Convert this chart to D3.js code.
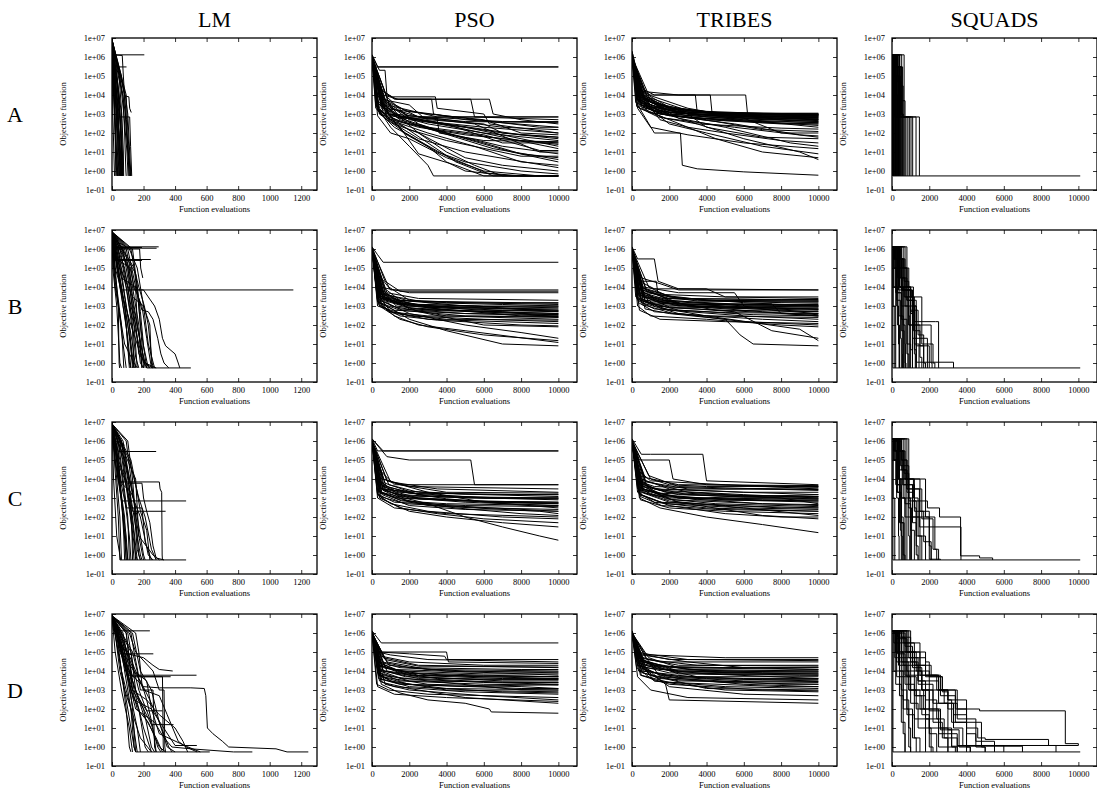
<!DOCTYPE html>
<html><head><meta charset="utf-8">
<script src="https://cdn.jsdelivr.net/npm/d3@7"></script>
<style>body{margin:0;background:#fff}</style></head>
<body>
<svg id="c" width="1097" height="807"></svg>
<script>
// ---------------- data (x = function evaluations, y = objective function) ----------------
const methods = ["LM", "PSO", "TRIBES", "SQUADS"];
const problems = ["A", "B", "C", "D"];
const lmXTicks = [0, 200, 400, 600, 800, 1000, 1200];
const popXTicks = [0, 2000, 4000, 6000, 8000, 10000];
const yTicks = [1e-1, 1e0, 1e1, 1e2, 1e3, 1e4, 1e5, 1e6, 1e7];
const yTickLabels = ["1e-01", "1e+00", "1e+01", "1e+02", "1e+03", "1e+04", "1e+05", "1e+06", "1e+07"];
const xLabel = "Function evaluations";
const yLabel = "Objective function";

const LM_A = [
 [0,8e6, 4,1.3e6, 205,1.3e6],
 [0,8e6, 6,1.3e6, 65,1.2e6, 72,1e5, 80,9e3, 107,8e3, 112,2e3, 122,1.2e3],
 [0,8e6, 10,1.3e6, 20,3e5, 92,3e5],
 [0,8e6, 3,1e6, 20,1e4, 45,1e2, 60,2, 62,0.55],
 [0,8e6, 2,1e6, 14,1e5, 34,1e2, 44,0.55],
 [0,8e6, 8,1e6, 40,1e3, 55,1, 58,0.55],
 [0,8e6, 3,2e6, 10,1e4, 25,10, 30,0.55],
 [0,8e6, 25,1e5, 50,1e3, 64,2, 66,0.55],
 [0,8e6, 2,1e6, 5,1e3, 16,0.55],
 [0,8e6, 15,1e5, 32,1e4, 46,7e2, 112,7e2, 118,20, 125,0.55],
 [0,8e6, 40,1e5, 70,8e3, 85,1e3, 100,10, 110,0.55],
 [0,8e6, 50,1e5, 75,1e3, 95,10, 102,0.55],
 [0,8e6, 5,3e6, 40,1e4, 58,1e2, 68,0.55],
 [0,8e6, 20,1e5, 38,1e3, 50,1, 52,0.55],
 [0,8e6, 60,1e5, 78,1e4, 92,1e2, 118,0.55],
 [0,8e6, 4,1e6, 12,1e4, 22,1e2, 35,0.55],
 [0,8e6, 30,1e5, 60,1e3, 70,0.55],
 [0,8e6, 12,1e6, 28,1e4, 52,10, 56,0.55],
 [0,8e6, 70,1e4, 80,1e2, 88,1, 90,0.55],
 [0,8e6, 35,3e4, 55,1e2, 60,0.55],
 [0,8e6, 18,1e5, 26,1e3, 40,0.55],
 [0,8e6, 45,1e5, 62,1e3, 72,10, 74,0.55],
 [0,8e6, 84,1e4, 100,1e3, 112,10, 120,0.55],
 [0,8e6, 6,1e6, 30,1e3, 42,10, 48,0.55],
 [0,8e6, 10,5e5, 22,1e4, 40,1e2, 54,0.55],
 [0,8e6, 3,1e6, 15,1e4, 28,10, 38,0.55],
 [0,8e6, 20,1e6, 45,1e4, 58,1e2, 64,0.55],
 [0,8e6, 90,1e4, 95,1e3, 108,10, 115,0.55],
 [0,8e6, 80,1e4, 92,5e2, 104,5, 108,0.55],
 [0,8e6, 8,2e5, 18,1e3, 24,0.55]
];
const LM_B = [
 [0,8e6, 5,1.3e6, 296,1.3e6],
 [0,8e6, 8,1.1e6, 283,1.1e6],
 [0,8e6, 10,1.2e6, 190,1.2e6],
 [0,8e6, 15,2.8e5, 246,2.8e5],
 [0,8e6, 20,2.5e5, 190,2.5e5],
 [0,8e6, 30,1e6, 175,1e6, 182,1e5, 195,3e4],
 [0,8e6, 20,1e5, 60,7e3, 1150,7e3],
 [0,8e6, 25,3e5, 120,1e5, 140,7e3, 200,7e3, 230,3e3, 270,1e3, 300,2e2, 320,20, 340,8, 400,3, 420,1, 430,0.55],
 [0,8e6, 60,3e4, 150,1e4, 190,6e2, 230,5e2, 260,2e2, 290,20, 310,3, 330,1, 360,0.55],
 [0,8e6, 50,1e5, 130,3e3, 200,1e3, 240,1e2, 250,1, 255,0.55],
 [0,8e6, 10,1e6, 40,1e3, 45,1, 48,0.55],
 [0,8e6, 15,1e5, 60,1e2, 75,0.55],
 [0,8e6, 30,1e5, 80,1e3, 110,1, 120,0.55],
 [0,8e6, 40,1e6, 90,1e3, 130,10, 150,0.55],
 [0,8e6, 70,1e6, 110,1e4, 150,1e2, 180,1, 200,0.55],
 [0,8e6, 100,1e6, 150,1e4, 160,1e2, 200,2, 210,0.55],
 [0,8e6, 20,1e4, 80,10, 140,1, 160,0.55],
 [0,8e6, 50,1e4, 120,1e2, 180,3, 220,0.55, 500,0.55],
 [0,8e6, 120,1e6, 140,1e5, 170,1e3, 190,10, 200,0.55],
 [0,8e6, 80,1e5, 120,1e3, 150,1e2, 170,3, 240,0.55],
 [0,8e6, 150,5e4, 180,5e2, 200,8, 230,0.55],
 [0,8e6, 60,1e6, 100,1e5, 140,1e2, 160,0.55],
 [0,8e6, 90,1e4, 130,50, 140,0.55],
 [0,8e6, 110,1e5, 135,1e3, 175,20, 190,0.55],
 [0,8e6, 140,1e5, 170,1e4, 205,1e3, 230,1e2, 255,1, 262,0.55],
 [0,8e6, 10,1e5, 40,1e3, 70,10, 90,0.55],
 [0,8e6, 30,1e6, 70,1e4, 110,1e2, 130,0.55],
 [0,8e6, 50,1e6, 100,1e4, 130,1e2, 150,2, 170,0.55],
 [0,8e6, 80,1e6, 130,1e4, 170,1e2, 190,0.55],
 [0,8e6, 20,1e6, 50,1e4, 90,1e2, 110,0.55],
 [0,8e6, 130,1e6, 160,1e4, 180,1e2, 220,0.55],
 [0,8e6, 60,1e4, 100,1e2, 130,1, 140,0.55],
 [0,8e6, 100,1e5, 140,1e3, 180,10, 210,1, 280,0.55],
 [0,8e6, 15,1e6, 60,1e4, 80,1e3, 120,10, 140,0.55],
 [0,8e6, 40,1e5, 70,1e3, 100,20, 120,0.55],
 [0,8e6, 90,1e6, 140,1e4, 190,1e3, 220,20, 250,0.55],
 [0,8e6, 110,1e6, 160,1e5, 200,1e3, 230,10, 270,0.55],
 [0,8e6, 70,1e5, 110,1e3, 170,10, 200,1, 260,0.55],
 [0,8e6, 5,1e5, 30,1e3, 50,1, 60,0.55]
];
const LM_C = [
 [0,8e6, 5,1.2e6, 80,6e5],
 [0,8e6, 20,1e6, 40,2.8e5, 280,2.8e5],
 [0,8e6, 30,1e5, 40,7e3, 300,7e3, 305,3e3, 315,2e3, 318,1, 320,0.55],
 [0,8e6, 20,1e5, 60,7e2, 470,7e2],
 [0,8e6, 40,1e5, 100,5e3, 130,2e2, 340,2e2],
 [0,8e6, 60,1e6, 110,6e3, 190,6e3, 200,1e3, 220,2e2, 240,50, 260,3, 280,0.7, 330,0.55],
 [0,8e6, 15,1e5, 40,1e2, 50,0.55, 470,0.55],
 [0,8e6, 10,1e4, 30,10, 55,0.55],
 [0,8e6, 30,1e5, 70,1e2, 90,0.55],
 [0,8e6, 50,1e5, 80,1e3, 110,10, 120,0.55],
 [0,8e6, 70,1e5, 100,1e3, 150,1, 160,0.55],
 [0,8e6, 90,1e6, 120,1e4, 140,5e2, 170,10, 200,0.55],
 [0,8e6, 100,3e4, 150,3e2, 190,3e2, 210,5, 250,0.55],
 [0,8e6, 40,3e4, 90,3e2, 140,3e2, 160,2, 180,0.55],
 [0,8e6, 120,1e5, 160,2e3, 180,2e2, 220,20, 240,0.55],
 [0,8e6, 25,1e6, 60,1e3, 75,10, 80,0.55],
 [0,8e6, 80,3e5, 110,5e3, 125,1e2, 130,0.55],
 [0,8e6, 150,1e4, 170,10, 260,1, 300,0.55],
 [0,8e6, 60,6e3, 120,2e3, 180,1e2, 230,1, 260,0.55],
 [0,8e6, 35,1e6, 50,1e4, 70,1e2, 100,0.55],
 [0,8e6, 10,1e6, 30,1e4, 50,1e2, 60,0.55],
 [0,8e6, 40,1e6, 70,1e4, 100,1e2, 110,0.55],
 [0,8e6, 60,1e6, 90,1e4, 120,1e2, 140,0.55],
 [0,8e6, 20,1e5, 60,1e3, 90,10, 100,0.55],
 [0,8e6, 100,1e6, 130,1e4, 150,1e2, 170,1, 180,0.55],
 [0,8e6, 80,1e5, 120,1e3, 180,1, 190,0.55],
 [0,8e6, 15,1e6, 45,1e4, 80,1e2, 90,0.55],
 [0,8e6, 50,1e6, 80,1e4, 110,1e3, 140,10, 150,0.55],
 [0,8e6, 70,1e6, 110,1e4, 160,1e2, 200,1, 210,0.55],
 [0,8e6, 30,1e5, 80,1e4, 130,1e2, 160,0.55],
 [0,8e6, 110,1e5, 170,1e3, 210,1e2, 250,2, 280,0.55]
];
const LM_D = [
 [0,8e6, 10,1.3e6, 240,1.3e6],
 [0,8e6, 40,1e6, 70,8e4, 262,8e4],
 [0,8e6, 50,3e5, 100,8e4, 200,5e4, 260,2e4, 300,1.2e4, 385,1e4],
 [0,8e6, 60,1e5, 100,6e3, 536,6e3],
 [0,8e6, 80,3e5, 130,5e3, 372,5e3],
 [0,8e6, 30,1e6, 100,1e4, 200,1.5e3, 300,1.3e3, 500,1.3e3, 585,1.2e3, 595,5e2, 605,10, 640,5, 700,2, 740,1, 1040,0.8, 1110,0.55, 1245,0.55],
 [0,8e6, 120,1e6, 140,1e5, 170,5e3, 320,5e3, 325,1, 330,0.55],
 [0,8e6, 60,1e5, 130,1e3, 200,1e2, 250,15, 390,15],
 [0,8e6, 70,3e4, 140,3e2, 250,1e2, 400,1.2, 538,1.2],
 [0,8e6, 100,1e5, 200,1e3, 300,5e2, 350,50, 420,2, 470,1, 540,0.55],
 [0,8e6, 40,1e5, 100,1e2, 140,1, 150,0.55, 620,0.55],
 [0,8e6, 90,1e4, 150,1e2, 270,20, 330,3, 380,1, 500,0.8, 770,0.55, 890,0.55],
 [0,8e6, 20,1e5, 60,1e3, 110,10, 130,0.55],
 [0,8e6, 50,1e6, 110,1e3, 160,10, 180,0.55],
 [0,8e6, 80,1e5, 120,1e3, 170,1e2, 210,1, 230,0.55],
 [0,8e6, 150,1e6, 170,1e5, 190,2e3, 220,3e2, 260,10, 280,0.55],
 [0,8e6, 100,3e4, 180,3e3, 240,3e2, 300,20, 360,1, 380,0.55],
 [0,8e6, 130,1e5, 160,1e4, 180,1e3, 260,1e3, 270,1, 280,0.55],
 [0,8e6, 60,1e4, 120,1e2, 180,3, 250,0.55],
 [0,8e6, 110,1e6, 150,1e5, 260,1e4, 300,1e3, 330,1e3, 335,1, 340,0.55],
 [0,8e6, 90,1e6, 130,1e3, 220,3e2, 300,50, 400,10, 450,2, 480,0.55],
 [0,8e6, 70,1e5, 160,5e2, 220,80, 320,80],
 [0,8e6, 140,1e4, 220,3e3, 250,1e2, 300,5, 470,1.1, 560,0.55],
 [0,8e6, 30,1e6, 60,1e4, 90,1e2, 110,1, 120,0.55],
 [0,8e6, 60,1e6, 100,1e4, 130,1e2, 150,0.55],
 [0,8e6, 90,1e6, 120,1e4, 140,1e3, 200,10, 250,0.55],
 [0,8e6, 20,1e6, 50,1e4, 80,1e3, 120,1e2, 160,0.55],
 [0,8e6, 120,1e5, 150,1e3, 200,50, 280,3, 320,0.55],
 [0,8e6, 70,1e6, 130,1e3, 160,1e2, 230,20, 300,1, 340,0.55],
 [0,8e6, 40,1e6, 80,1e4, 120,1e2, 140,1, 150,0.55],
 [0,8e6, 100,1e6, 140,1e4, 170,1e3, 240,30, 290,1, 310,0.55],
 [0,8e6, 50,1e5, 110,1e4, 150,1e3, 200,1e2, 250,1, 270,0.55],
 [0,8e6, 130,1e6, 180,1e4, 250,1e3, 300,20, 350,1, 400,0.55]
];
const PSO_A = [
 [0,1.3e6, 200,3e5, 10000,3e5],
 [0,1.3e6, 300,3e5, 10000,3e5],
 [0,1e6, 500,1e4, 1500,7e2, 10000,7e2],
 [0,1e6, 800,3e3, 3500,7e2, 10000,7e2],
 [0,1.3e6, 400,2e5, 700,2e5, 800,1e4, 1100,8e3, 3400,8e3, 3500,2e3, 6000,1e3, 6300,3e2, 10000,1e2],
 [0,1e6, 500,2e4, 1200,6e3, 6300,6e3, 6500,1e3, 8000,5e2, 10000,3e2],
 [0,1e6, 600,1e4, 1400,6e3, 5300,6e3, 5500,7e2, 10000,5e2],
 [0,1e6, 400,2e4, 1300,6e3, 3200,6e3, 3300,1e3, 5000,5e2, 10000,2e2],
 [0,1e6, 300,5e3, 1000,1e3, 3000,3e2, 6000,1e2, 10000,40],
 [0,1e6, 500,3e3, 1500,5e2, 4000,1e2, 7000,20, 10000,8],
 [0,1e6, 400,2e3, 1200,3e2, 2500,1e2, 4000,10, 5500,2, 7000,0.55, 10000,0.55],
 [0,1e6, 200,3e3, 1000,2e2, 2000,20, 3000,2, 3300,0.55, 10000,0.55],
 [0,1e6, 600,5e3, 2000,5e2, 5000,2e2, 8000,50, 10000,20],
 [0,1e6, 300,1e4, 900,1e3, 3000,4e2, 7000,1e2, 10000,50],
 [0,1e6, 500,3e3, 1700,1e2, 3500,10, 5000,3, 8000,1, 10000,0.7],
 [0,1e6, 700,5e3, 2500,3e2, 5000,50, 7500,10, 10000,3],
 [0,1e6, 400,1e3, 2000,3e2, 6000,30, 8000,8, 10000,5],
 [0,1e6, 800,8e3, 2000,6e2, 4500,2e2, 8500,30, 10000,15],
 [0,1e6, 300,2e3, 1500,2e2, 2500,8, 4500,2, 6000,0.55, 10000,0.55],
 [0,1e6, 1000,2e3, 3000,5e2, 6000,3e2, 7000,1e2, 10000,60],
 [0,1e6, 500,4e3, 1200,4e2, 3000,1e2, 5500,20, 8000,3, 10000,2],
 [0,1e6, 600,2e3, 3000,1e3, 6000,5e2, 8000,1e2, 10000,80],
 [0,1e6, 300,8e2, 1000,1e2, 2000,50, 4000,5, 6000,1, 9000,0.55, 10000,0.55],
 [0,1e6, 500,6e3, 2000,3e3, 2800,6e2, 5500,3e2, 9000,10, 10000,10],
 [0,1e6, 900,1e3, 4000,3e2, 7000,30, 10000,30],
 [0,1e6, 700,3e3, 2500,1e2, 3500,30, 5000,5, 7000,2, 10000,1],
 [0,1.3e6, 300,4e3, 1000,8e2, 3000,4e2, 6000,2e2, 10000,1e2],
 [0,1e6, 400,6e3, 1200,1e3, 4000,5e2, 7000,2e2, 10000,1.5e2],
 [0,1e6, 200,2e3, 800,6e2, 2500,2e2, 5000,80, 8000,40, 10000,30],
 [0,1e6, 600,3e3, 1500,8e2, 4000,3e2, 8000,80, 10000,60],
 [0,1e6, 350,1.5e3, 1500,4e2, 3500,1.5e2, 7000,50, 10000,25],
 [0,1e6, 500,8e3, 1800,1.5e3, 5000,6e2, 9000,2e2, 10000,2e2],
 [0,1e6, 700,2e3, 2200,3e2, 4500,60, 6500,15, 10000,4],
 [0,1e6, 400,1e3, 1800,1e2, 3000,20, 4000,3, 5000,1, 7500,0.55, 10000,0.55],
 [0,1e6, 250,2.5e3, 1000,4e2, 2500,50, 5000,10, 10000,1.5],
 [0,1e6, 900,4e3, 2500,7e2, 5000,4e2, 10000,3.5e2],
 [0,1e6, 600,1.2e3, 3000,2e2, 6000,80, 9000,12, 10000,12],
 [0,1e6, 450,5e3, 1400,6e2, 3500,6e2, 3600,1e2, 6000,40, 10000,35],
 [0,1e6, 800,6e2, 2000,1.5e2, 4000,40, 8000,6, 10000,6],
 [0,1e6, 550,3.5e3, 2000,8e2, 7000,4e2, 10000,4e2],
 [0,1e6, 500,2e3, 1500,3e2, 3000,30, 4500,3, 6000,0.8, 8000,0.55, 10000,0.55],
 [0,1e6, 300,1.5e3, 1200,2e2, 2500,40, 4000,6, 5500,1.5, 6500,0.55, 10000,0.55]
];
const PSO_B = [
 [0,1.3e6, 300,5e5, 600,2e5, 10000,2e5],
 [0,1.3e6, 500,3e4, 1000,7e3, 10000,7e3],
 [0,1.3e6, 700,2e4, 1500,6e3, 10000,6e3],
 [0,1e6, 400,1e4, 2000,5e3, 10000,5e3],
 [0,1e6, 300,5e3, 1500,2e3, 5000,1e3, 10000,8e2],
 [0,1e6, 500,3e3, 2000,1e3, 6000,6e2, 10000,5e2],
 [0,1e6, 400,2e3, 1500,7e2, 5000,4e2, 10000,3e2],
 [0,1e6, 600,4e3, 3000,1.5e3, 7000,1.2e3, 10000,1e3],
 [0,1e6, 300,1e3, 2000,3e2, 6000,2e2, 10000,1.5e2],
 [0,1e6, 500,2e3, 2000,4e2, 5000,1e2, 8000,40, 10000,20],
 [0,1e6, 700,3e3, 2500,5e2, 6000,1e2, 10000,80],
 [0,1e6, 400,1e3, 1500,2e2, 3000,80, 6000,30, 10000,15],
 [0,1e6, 300,8e3, 1000,1e3, 4000,3e2, 10000,2e2],
 [0,1e6, 800,3e3, 3000,8e2, 8000,3e2, 10000,3e2],
 [0,1e6, 500,1.5e3, 2000,2e2, 4000,50, 7000,10, 10000,8],
 [0,1e6, 600,6e3, 1800,1.2e3, 4000,6e2, 10000,4e2],
 [0,1e6, 400,3e3, 1000,5e2, 3000,2e2, 10000,1.2e2],
 [0,1e6, 900,1e4, 2000,2e3, 5000,1.5e3, 10000,1.2e3],
 [0,1e6, 300,2e3, 1200,3e2, 2500,1e2, 5000,50, 10000,12],
 [0,1e6, 700,5e3, 2000,7e2, 7000,5e2, 10000,2.5e2],
 [0,1e6, 500,2.5e3, 3000,1e3, 10000,6e2],
 [0,1e6, 300,3e3, 1500,1.2e3, 5000,8e2, 10000,7e2],
 [0,1e6, 500,4e3, 1200,1.5e3, 4000,9e2, 10000,9e2],
 [0,1e6, 400,1.5e3, 1500,6e2, 5000,3e2, 10000,2.5e2],
 [0,1e6, 600,2e3, 2000,8e2, 6000,5e2, 10000,4e2],
 [0,1e6, 700,8e3, 1500,2e3, 4000,1.5e3, 10000,1.4e3],
 [0,1e6, 350,1.2e3, 1200,4e2, 4000,2e2, 10000,1.8e2],
 [0,1e6, 450,2.5e3, 1800,1e3, 7000,7e2, 10000,6e2],
 [0,1e6, 550,6e3, 1300,1e3, 3000,6e2, 10000,3.5e2],
 [0,1e6, 800,5e3, 2500,2.5e3, 10000,2e3],
 [0,1e6, 300,1.8e3, 900,5e2, 3000,3e2, 10000,2.8e2],
 [0,1e6, 650,3e3, 2200,1.2e3, 5500,1e3, 10000,5e2],
 [0,1e6, 500,1e3, 1500,3e2, 3500,1.8e2, 8000,1e2, 10000,90],
 [0,1e6, 400,3.5e3, 1500,1.3e3, 6000,1e3, 10000,1e3],
 [0,1e6, 600,2.5e3, 2500,9e2, 7000,6e2, 10000,5.5e2],
 [0,1e6, 300,1.6e3, 1200,6e2, 5000,4e2, 10000,3.5e2],
 [0,1e6, 500,5e3, 2000,1.8e3, 8000,1.5e3, 10000,1.5e3]
];
const PSO_C = [
 [0,1.3e6, 300,3e5, 10000,3e5],
 [0,1.3e6, 600,3e5, 10000,3e5],
 [0,1.3e6, 800,1.5e5, 2000,1e5, 5300,1e5, 5500,5e3, 10000,5e3],
 [0,1e6, 400,3e4, 1200,5e3, 10000,5e3],
 [0,1e6, 600,1e4, 2000,4e3, 10000,3e3],
 [0,1e6, 300,5e3, 1500,2e3, 6000,1e3, 10000,8e2],
 [0,1e6, 500,3e3, 2000,1e3, 5000,6e2, 10000,4e2],
 [0,1e6, 400,2e3, 1500,8e2, 4000,4e2, 10000,2e2],
 [0,1e6, 700,6e3, 2500,1.5e3, 7000,1e3, 10000,1e3],
 [0,1e6, 300,1.5e3, 1000,5e2, 3000,2e2, 7000,1e2, 10000,80],
 [0,1e6, 500,2e3, 3000,5e2, 5000,1e2, 7000,30, 9000,10, 10000,6],
 [0,1e6, 400,1e3, 2000,2e2, 4000,1e2, 7000,50, 10000,30],
 [0,1e6, 800,8e3, 3000,2e3, 6000,6e2, 10000,5e2],
 [0,1e6, 600,2.5e3, 2000,6e2, 4500,3e2, 8000,1.5e2, 10000,1.2e2],
 [0,1e6, 350,4e3, 1500,1.2e3, 5000,7e2, 10000,6e2],
 [0,1e6, 900,5e3, 2500,2e3, 6000,1.5e3, 10000,1.2e3],
 [0,1e6, 500,1e3, 1500,3e2, 3500,1.5e2, 6000,80, 10000,50],
 [0,1e6, 700,3e3, 4000,9e2, 10000,3e2],
 [0,1e6, 450,1.8e3, 3000,4e2, 9000,2e2, 10000,1.5e2],
 [0,1e6, 1000,7e3, 3500,3e3, 10000,2e3],
 [0,1e6, 300,2.5e3, 1300,1e3, 5000,7e2, 10000,6e2],
 [0,1e6, 500,5e3, 1500,1.5e3, 5000,1e3, 10000,9e2],
 [0,1e6, 400,1.2e3, 1800,5e2, 6000,3e2, 10000,2.5e2],
 [0,1e6, 650,3e3, 2500,1e3, 7000,6e2, 10000,5e2],
 [0,1e6, 350,8e3, 1200,2.5e3, 5000,1.6e3, 10000,1.5e3],
 [0,1e6, 550,1.5e3, 2000,4e2, 5000,2.5e2, 10000,2e2],
 [0,1e6, 750,4e3, 3000,1.2e3, 10000,1e3],
 [0,1e6, 450,2e3, 1600,7e2, 4000,5e2, 10000,4e2],
 [0,1e6, 600,1e4, 1500,5e3, 4000,2e3, 10000,1.8e3],
 [0,1e6, 300,1e3, 1200,3e2, 4000,1.5e2, 10000,1e2],
 [0,1e6, 400,3.5e3, 1500,1.3e3, 6000,1e3, 10000,1e3],
 [0,1e6, 600,2.5e3, 2500,9e2, 7000,6e2, 10000,5.5e2],
 [0,1e6, 300,1.6e3, 1200,6e2, 5000,4e2, 10000,3.5e2],
 [0,1e6, 500,5e3, 2000,1.8e3, 8000,1.5e3, 10000,1.5e3]
];
const PSO_D = [
 [0,1.3e6, 500,3e5, 10000,3e5],
 [0,1.3e6, 400,1e5, 2000,8e4, 3900,6e4, 4000,4e4, 10000,4e4],
 [0,1e6, 300,1e5, 1000,7e4, 3000,4e4, 10000,3e4],
 [0,1e6, 500,6e4, 2000,3e4, 6000,2e4, 10000,2e4],
 [0,1e6, 400,3e4, 1500,1.5e4, 5000,1e4, 10000,8e3],
 [0,1e6, 300,2e4, 2000,8e3, 6000,6e3, 10000,5e3],
 [0,1e6, 600,1e4, 2500,5e3, 7000,3e3, 10000,3e3],
 [0,1e6, 500,5e3, 3000,2e3, 8000,1.5e3, 10000,1.2e3],
 [0,1e6, 400,3e3, 1200,1.5e3, 5000,8e2, 10000,6e2],
 [0,1e6, 700,2e3, 2000,1e3, 6000,5e2, 10000,3e2],
 [0,1e6, 300,8e3, 1000,3e3, 4000,1e3, 10000,8e2],
 [0,1e6, 500,2e3, 1500,7e2, 3000,3e2, 5000,2e2, 6300,1e2, 6400,70, 10000,60],
 [0,1e6, 600,1.5e4, 2500,6e3, 10000,4e3],
 [0,1e6, 800,3e4, 3000,1.2e4, 10000,1e4],
 [0,1e6, 350,4e3, 1500,2e3, 5000,1.5e3, 10000,2e3],
 [0,1e6, 450,1e4, 1600,4e3, 6000,2.5e3, 10000,2e3],
 [0,1e6, 550,2.5e3, 2000,1.2e3, 5000,4e2, 10000,2e2],
 [0,1e6, 400,6e3, 3000,3e3, 8000,1e3, 10000,1e3],
 [0,1e6, 900,2e4, 4000,1e4, 10000,6e3],
 [0,1e6, 300,1.5e3, 1200,6e2, 4000,4e2, 10000,2.5e2],
 [0,1e6, 300,3e4, 1500,1e4, 6000,7e3, 10000,7e3],
 [0,1e6, 500,2e4, 2000,6e3, 7000,4e3, 10000,4e3],
 [0,1e6, 400,8e3, 1500,3e3, 6000,2e3, 10000,1.8e3],
 [0,1e6, 600,5e4, 2500,2e4, 10000,1.5e4],
 [0,1e6, 350,6e3, 1200,2.5e3, 4000,1.2e3, 10000,1e3],
 [0,1e6, 700,1.5e4, 3000,6e3, 10000,5e3],
 [0,1e6, 450,4e3, 2000,1.5e3, 7000,8e2, 10000,7e2],
 [0,1e6, 550,3e4, 2000,1.5e4, 8000,1.2e4, 10000,1.2e4],
 [0,1e6, 800,1e4, 3500,4e3, 10000,3.5e3],
 [0,1e6, 250,2e3, 900,1e3, 3000,6e2, 10000,4e2],
 [0,1e6, 650,7e3, 2000,3e3, 9000,2.5e3, 10000,2.5e3],
 [0,1e6, 500,1e5, 4000,1e5, 4100,3e4, 10000,2.5e4],
 [0,1e6, 400,2e4, 1500,8e3, 6000,5e3, 10000,5e3],
 [0,1e6, 600,1e4, 2500,4e3, 7000,2.5e3, 10000,2.5e3],
 [0,1e6, 300,3e4, 1200,1.2e4, 5000,9e3, 10000,9e3],
 [0,1e6, 500,5e3, 2000,2e3, 8000,1.2e3, 10000,1.2e3],
 [0,1e6, 700,4e4, 2500,1.8e4, 10000,1.6e4],
 [0,1e6, 450,1.2e4, 1800,5e3, 6000,3.5e3, 10000,3.5e3]
];
const TRIBES_A = [
 [0,2e6, 300,1e5, 600,1e4, 2000,2e3, 5000,1e3, 10000,9e2],
 [0,1e6, 500,1e4, 2000,1.5e3, 6000,8e2, 10000,6e2],
 [0,1.5e6, 400,2e4, 1000,1e4, 4200,1e4, 4300,1e3, 8000,7e2, 10000,5e2],
 [0,1e6, 600,2e4, 1200,1e4, 6100,1e4, 6200,1e3, 10000,8e2],
 [0,1e6, 300,5e3, 2000,1e3, 5000,6e2, 10000,4e2],
 [0,1e6, 500,3e3, 1500,1e3, 4000,5e2, 8000,3e2, 10000,3e2],
 [0,1e6, 400,8e3, 1000,2e3, 3000,8e2, 10000,7e2],
 [0,1e6, 700,5e3, 2500,2e3, 5000,1e3, 10000,1e3],
 [0,1e6, 300,3e3, 1200,1e2, 2600,1e2, 2700,2, 3500,1.3, 6000,0.9, 10000,0.6],
 [0,1e6, 500,1e4, 1500,5e2, 3000,2e2, 5000,1e2, 8000,40, 10000,30],
 [0,1e6, 400,5e3, 2000,3e2, 4000,1e2, 7000,20, 10000,8],
 [0,1e6, 800,1e4, 1800,1e3, 3500,3e2, 6000,50, 9000,10, 10000,4],
 [0,1e6, 300,2e3, 1000,2e2, 3000,80, 6000,30, 10000,15],
 [0,1e6, 600,8e3, 2500,6e2, 5000,2e2, 8500,30, 10000,20],
 [0,1e6, 500,3e3, 3000,1e3, 4000,2e2, 7000,60, 10000,50],
 [0,1e6, 900,1e4, 3000,2e3, 6000,6e2, 8000,1e2, 10000,100],
 [0,1e6, 400,2e3, 2000,5e2, 4500,50, 7000,10, 10000,5],
 [0,1e6, 700,3e3, 2000,1e3, 6000,5e2, 10000,2e2],
 [0,1e6, 300,6e3, 1500,2e3, 4000,7e2, 10000,5e2],
 [0,2e6, 500,2e4, 1000,4e3, 3000,1.2e3, 10000,1e3],
 [0,1e6, 800,2e3, 2200,8e2, 5500,3e2, 9000,80, 10000,70],
 [0,1.5e6, 300,2e4, 800,5e3, 2000,1.5e3, 6000,9e2, 10000,8e2],
 [0,1e6, 400,1.5e4, 1000,3e3, 3000,1e3, 8000,6e2, 10000,6e2],
 [0,1e6, 500,8e3, 1500,2.5e3, 4000,1.2e3, 10000,1e3],
 [0,1e6, 200,4e3, 1200,1.5e3, 5000,7e2, 10000,4e2],
 [0,1e6, 600,1e4, 2000,1.8e3, 7000,8e2, 10000,7e2],
 [0,1e6, 300,6e3, 900,1.2e3, 3500,6e2, 10000,3.5e2],
 [0,1e6, 700,1.2e4, 2500,1.2e3, 6000,7e2, 10000,5e2],
 [0,1e6, 450,3e3, 2000,8e2, 5000,5e2, 10000,2.5e2],
 [0,1e6, 350,5e3, 1500,1e3, 4500,4e2, 7000,1.5e2, 10000,1.2e2],
 [0,1e6, 800,8e3, 3000,1.5e3, 9000,9e2, 10000,9e2],
 [0,1e6, 550,2e3, 1800,6e2, 5500,2e2, 10000,60],
 [0,1e6, 250,2.5e3, 1400,7e2, 3500,3e2, 8000,1.8e2, 10000,1.6e2],
 [0,1e6, 650,6e3, 2000,2e3, 5000,1.1e3, 10000,1.1e3],
 [0,1e6, 500,1.8e4, 700,1.5e4, 2500,1e4, 3400,1e4, 3500,1.2e3, 10000,9e2],
 [0,1e6, 400,6e3, 1500,1.3e3, 6000,7e2, 10000,6.5e2],
 [0,1e6, 600,4e3, 2500,1.1e3, 7000,8e2, 10000,7.5e2],
 [0,1e6, 300,1e4, 1200,2.2e3, 5000,9e2, 10000,8.5e2],
 [0,1e6, 500,5e3, 2000,1.2e3, 6500,5.5e2, 10000,4.5e2],
 [0,1e6, 700,7e3, 3000,1e3, 8000,6e2, 10000,5.5e2],
 [0,1e6, 450,2.5e3, 1800,9e2, 5000,4.5e2, 10000,3.5e2],
 [0,1e6, 350,9e3, 1300,3e3, 4500,1.1e3, 10000,9.5e2],
 [0,1e6, 550,3.5e3, 2200,8e2, 7000,3.5e2, 10000,3e2]
];
const TRIBES_B = [
 [0,1.3e6, 300,3e5, 1200,3e5, 1400,2e4, 2500,8e3, 10000,7e3],
 [0,1.3e6, 500,3e4, 1500,1.5e4, 2500,7e3, 10000,7e3],
 [0,1e6, 400,2e4, 1200,8e3, 4000,8e3, 5000,3e3, 10000,2.5e3],
 [0,1e6, 300,8e3, 2000,3e3, 6000,1.5e3, 10000,1e3],
 [0,1e6, 600,5e3, 3000,1e3, 10000,7e2],
 [0,1e6, 200,3e3, 1000,1.5e3, 5000,8e2, 10000,5e2],
 [0,1e6, 500,1e4, 2000,2e3, 6000,1e3, 7500,6e2, 10000,4e2],
 [0,1e6, 700,7e2, 2000,4e2, 5000,2e2, 5300,1e2, 5800,30, 6500,10, 10000,8],
 [0,1e6, 500,2e3, 2000,6e2, 6000,3e2, 10000,2e2],
 [0,1e6, 300,1e3, 1000,3e2, 4000,2e2, 8000,1e2, 10000,80],
 [0,1e6, 800,6e3, 3000,1e3, 7000,5e2, 10000,3e2],
 [0,1e6, 400,3e3, 1200,1e3, 5500,5e2, 7500,50, 10000,20],
 [0,1e6, 600,1e4, 2500,5e3, 5500,5e3, 6000,1e3, 10000,1e3],
 [0,1e6, 300,5e3, 1500,8e2, 4000,3e2, 9000,60, 10000,15],
 [0,1e6, 700,2e3, 3000,1.2e3, 10000,1.2e3],
 [0,1e6, 500,1.5e3, 2500,4e2, 6000,1.5e2, 10000,1e2],
 [0,1e6, 900,1e4, 2000,3e3, 4000,2e3, 10000,1.8e3],
 [0,1e6, 400,6e2, 1500,2e2, 5000,1.5e2, 10000,1.2e2],
 [0,1e6, 600,3e3, 3500,2e3, 8000,1.5e3, 10000,1.4e3],
 [0,1e6, 350,8e3, 1200,2.5e3, 4500,6e2, 10000,3.5e2],
 [0,1e6, 300,4e3, 1500,1.5e3, 5000,1e3, 10000,9e2],
 [0,1e6, 500,6e3, 1500,2e3, 6000,1.2e3, 10000,1e3],
 [0,1e6, 400,2e3, 2000,8e2, 5000,6e2, 10000,5e2],
 [0,1e6, 600,8e3, 2500,2.5e3, 10000,2e3],
 [0,1e6, 350,1.5e3, 1200,5e2, 4000,3e2, 10000,2.5e2],
 [0,1e6, 700,3e3, 2000,9e2, 7000,7e2, 10000,6e2],
 [0,1e6, 450,1e4, 1800,4e3, 5000,3e3, 10000,3e3],
 [0,1e6, 550,1.2e3, 2200,4e2, 7000,2e2, 10000,1.5e2],
 [0,1e6, 800,5e3, 3500,1.8e3, 10000,1.6e3],
 [0,1e6, 250,2.5e3, 1000,1.2e3, 6000,8e2, 10000,7e2],
 [0,1e6, 650,4e3, 2500,1.3e3, 7500,1.3e3, 8000,4e2, 10000,3e2],
 [0,1e6, 500,2e4, 1300,2e4, 1400,4e3, 4000,2e3, 10000,1.8e3],
 [0,1e6, 400,5e3, 1500,1.8e3, 6000,1.1e3, 10000,1.1e3],
 [0,1e6, 600,3e3, 2500,1e3, 7000,8e2, 10000,8e2],
 [0,1e6, 300,2e3, 1200,7e2, 5000,4.5e2, 10000,4e2],
 [0,1e6, 500,7e3, 2000,2.5e3, 8000,2.2e3, 10000,2.2e3],
 [0,1e6, 700,1.8e3, 2500,6e2, 6500,3.5e2, 10000,3e2],
 [0,1e6, 450,4e3, 1800,1.4e3, 6000,9e2, 10000,6.5e2]
];
const TRIBES_C = [
 [0,1.3e6, 500,2e5, 1000,2e5, 3800,2e5, 4000,8e3, 10000,5e3],
 [0,1.3e6, 400,1e5, 2000,1e5, 2200,1e4, 4000,5e3, 10000,4e3],
 [0,1e6, 300,3e4, 1000,8e3, 5000,5e3, 10000,3e3],
 [0,1e6, 500,1e4, 2000,3e3, 6000,2e3, 10000,1.5e3],
 [0,1e6, 400,5e3, 1500,1.5e3, 5000,8e2, 10000,6e2],
 [0,1e6, 600,3e3, 2500,1e3, 7000,5e2, 10000,4e2],
 [0,1e6, 300,2e3, 1200,6e2, 4000,3e2, 10000,2e2],
 [0,1e6, 700,8e3, 3000,2e3, 8000,1e3, 10000,9e2],
 [0,1e6, 500,1.5e3, 2000,4e2, 5000,1.5e2, 8000,1e2, 10000,1e2],
 [0,1e6, 400,1e3, 1500,3e2, 4000,1e2, 7000,40, 10000,15],
 [0,1e6, 800,4e3, 3000,1.5e3, 10000,1.2e3],
 [0,1e6, 350,6e3, 1500,2.5e3, 6000,1.5e3, 10000,1e3],
 [0,1e6, 600,2e3, 2000,7e2, 6000,3e2, 10000,2.5e2],
 [0,1e6, 900,1.5e4, 2500,4e3, 7000,3e3, 10000,2.5e3],
 [0,1e6, 450,8e2, 2000,3e2, 5000,2e2, 10000,1.5e2],
 [0,1e6, 700,5e3, 1800,9e2, 4500,5e2, 10000,3.5e2],
 [0,1e6, 550,2.5e3, 3500,8e2, 10000,7e2],
 [0,1e6, 1000,1e4, 2000,5e3, 4000,4e3, 10000,4e3],
 [0,1e6, 300,4e3, 2500,6e2, 7000,1.2e2, 10000,80],
 [0,1e6, 300,3e3, 1500,1.2e3, 6000,8e2, 10000,7e2],
 [0,1e6, 500,6e3, 1800,2e3, 6000,1.3e3, 10000,1.2e3],
 [0,1e6, 400,1.5e3, 1500,6e2, 5000,4e2, 10000,3e2],
 [0,1e6, 650,4e3, 2500,1.5e3, 8000,1e3, 10000,5e2],
 [0,1e6, 350,1e4, 1200,3e3, 6000,2e3, 10000,2e3],
 [0,1e6, 550,2e3, 2200,8e2, 7000,5e2, 10000,4.5e2],
 [0,1e6, 750,7e3, 3000,3e3, 10000,2.8e3],
 [0,1e6, 450,1.2e3, 1600,4e2, 4500,2.5e2, 10000,2e2],
 [0,1e6, 600,3e3, 2000,1e3, 9000,9e2, 10000,9e2],
 [0,1e6, 300,5e3, 1000,1.5e3, 3500,1e3, 10000,1.5e3],
 [0,1e6, 400,5e3, 1500,1.8e3, 6000,1.1e3, 10000,1.1e3],
 [0,1e6, 600,3e3, 2500,1e3, 7000,8e2, 10000,8e2],
 [0,1e6, 300,8e3, 1200,4e3, 5000,3e3, 10000,3.5e3],
 [0,1e6, 500,2e3, 2000,6e2, 8000,3e2, 10000,3e2],
 [0,1e6, 700,1.2e4, 2500,5e3, 10000,4.5e3],
 [0,1e6, 450,1.5e3, 1800,5e2, 6000,3e2, 10000,1.2e2]
];
const TRIBES_D = [
 [0,1.3e6, 300,1e5, 1000,7e4, 5000,5e4, 10000,5e4],
 [0,1.3e6, 500,8e4, 2000,4e4, 10000,4e4],
 [0,1e6, 400,5e4, 2500,2e4, 10000,2e4],
 [0,1e6, 600,3e4, 3000,1.2e4, 10000,1e4],
 [0,1e6, 300,2e4, 2000,8e3, 10000,6e3],
 [0,1e6, 500,1e4, 4000,4e3, 10000,3e3],
 [0,1e6, 700,6e4, 1500,5e3, 6000,2e3, 10000,1.5e3],
 [0,1e6, 400,3e4, 1200,3e3, 5000,1e3, 10000,8e2],
 [0,1e6, 800,1e4, 2000,1.5e3, 6000,6e2, 10000,5e2],
 [0,1e6, 300,5e3, 1000,1e3, 3000,4e2, 10000,3e2],
 [0,1e6, 600,2e4, 1800,2e3, 2000,3e2, 10000,2e2],
 [0,1e6, 500,7e4, 3000,3e4, 6000,1.5e4, 10000,1.2e4],
 [0,1e6, 450,4e4, 2500,1e4, 7000,8e3, 10000,8e3],
 [0,1e6, 700,2e4, 3500,5e3, 10000,5e3],
 [0,1e6, 350,1e4, 1500,4e3, 5000,2.5e3, 10000,2e3],
 [0,1e6, 900,5e4, 2500,1.5e4, 10000,1.5e4],
 [0,1e6, 550,8e3, 2500,3e3, 10000,2.5e3],
 [0,1e6, 250,3e4, 1000,6e3, 4000,1.2e3, 10000,1e3],
 [0,1e6, 650,1.5e4, 4000,7e3, 10000,4e3],
 [0,1e6, 300,6e4, 1500,3e4, 10000,3e4],
 [0,1e6, 500,4e4, 2000,1.5e4, 10000,1.2e4],
 [0,1e6, 400,2e4, 1500,6e3, 6000,4e3, 10000,4e3],
 [0,1e6, 600,1.2e4, 2500,4e3, 8000,2e3, 10000,2e3],
 [0,1e6, 350,5e4, 1200,2e4, 5000,8e3, 10000,7e3],
 [0,1e6, 700,8e4, 3000,4e4, 10000,3.5e4],
 [0,1e6, 450,6e3, 2000,2e3, 7000,1e3, 10000,9e2],
 [0,1e6, 550,2.5e4, 2200,1e4, 10000,9e3],
 [0,1e6, 800,4e4, 3500,2e4, 10000,1.8e4],
 [0,1e6, 250,1.5e4, 1200,3e3, 5000,1.5e3, 10000,1.2e3],
 [0,1e6, 650,3e4, 2500,7e3, 9000,6e3, 10000,6e3],
 [0,1e6, 400,2.5e4, 1500,1.2e4, 6000,1e4, 10000,1e4],
 [0,1e6, 600,1e4, 2500,5e3, 7000,3.5e3, 10000,3.5e3],
 [0,1e6, 300,4e4, 1200,1.8e4, 5000,1.5e4, 10000,1.5e4],
 [0,1e6, 500,6e3, 2000,2.5e3, 8000,1.5e3, 10000,1.5e3],
 [0,1e6, 700,3e4, 2500,9e3, 10000,7e3],
 [0,1e6, 450,1.5e4, 1800,5e3, 6000,3e3, 10000,2.8e3]
];
const SQUADS_A = [
 [0,1.3e6, 250,1.3e6, 250,3e5, 570,3e5, 570,7e2, 1470,7e2, 1470,0.55],
 [0,1.3e6, 100,1.3e6, 100,3e5, 500,3e5, 500,7e2, 1290,7e2, 1290,0.55],
 [0,1.3e6, 200,3e5, 400,3e5, 400,7e2, 1110,7e2, 1110,0.55],
 [0,1.3e6, 150,7e2, 930,7e2, 930,0.55],
 [0,1.3e6, 300,3e5, 400,3e4, 600,7e2, 750,7e2, 750,0.55],
 [0,1.3e6, 50,1.3e6, 50,0.55, 10100,0.55],
 [0,1.3e6, 200,1e4, 300,1e3, 300,0.55],
 [0,1.3e6, 100,1e5, 200,1e2, 200,0.55],
 [0,1.3e6, 400,1e4, 500,1e3, 600,1e3, 600,0.55],
 [0,1.3e6, 300,1e5, 450,5e3, 450,0.55],
 [0,1.3e6, 150,1e5, 350,1e3, 350,0.55],
 [0,1.3e6, 80,1e4, 80,0.55],
 [0,1.3e6, 520,5e3, 700,7e2, 700,0.55],
 [0,1.3e6, 250,1e5, 250,0.55],
 [0,1.3e6, 380,3e5, 380,1e3, 550,1e2, 550,0.55],
 [0,1.3e6, 120,3e5, 120,0.55],
 [0,1.3e6, 30,1.3e6, 30,0.55],
 [0,1.3e6, 170,3e5, 170,1e4, 170,0.55],
 [0,1.3e6, 220,1e5, 320,1e4, 320,0.55],
 [0,1.3e6, 420,3e5, 420,0.55],
 [0,1.3e6, 280,5e4, 480,5e3, 480,0.55],
 [0,1.3e6, 650,7e2, 650,0.55],
 [0,1.3e6, 60,3e5, 60,0.55],
 [0,1.3e6, 90,1.3e6, 140,3e5, 140,0.55],
 [0,1.3e6, 160,1e5, 230,1e5, 230,0.55],
 [0,1.3e6, 180,3e5, 270,3e4, 270,0.55],
 [0,1.3e6, 210,3e5, 340,1e4, 340,0.55],
 [0,1.3e6, 260,3e5, 360,3e5, 360,5e3, 400,5e3, 400,0.55],
 [0,1.3e6, 300,3e5, 440,3e5, 440,7e2, 520,7e2, 520,0.55],
 [0,1.3e6, 330,3e5, 470,3e5, 470,1e3, 580,1e3, 580,0.55],
 [0,1.3e6, 20,1e5, 20,0.55],
 [0,1.3e6, 110,1e6, 190,1e6, 190,0.55],
 [0,1.3e6, 130,3e5, 290,3e5, 290,7e2, 850,7e2, 850,0.55],
 [0,1.3e6, 240,3e5, 540,3e5, 540,7e2, 1020,7e2, 1020,0.55]
];
const SQUADS_B = [
 [0,1.3e6, 300,1.3e6, 300,3e5, 520,3e5, 520,7e3, 1040,7e3, 1040,3e3, 1200,3e3, 1200,1.5e2, 2330,1.5e2, 2500,0.55],
 [0,1.3e6, 200,3e5, 500,3e5, 500,7e3, 900,7e3, 900,1e2, 2100,1e2, 2100,1, 2150,0.55],
 [0,1.3e6, 150,1e5, 400,1e4, 700,3e3, 1100,3e3, 1100,20, 1900,20, 1900,0.55],
 [0,1.3e6, 100,3e5, 600,3e4, 800,2e3, 1300,8, 2000,8, 2000,0.55],
 [0,1.3e6, 400,1e4, 1000,1e3, 1300,1.1, 3300,1.1, 3300,0.55],
 [0,1.3e6, 50,1e6, 50,0.55, 10100,0.55],
 [0,1.3e6, 300,1e5, 500,1e3, 800,10, 1000,0.55],
 [0,1.3e6, 250,1e4, 600,1e2, 700,1, 750,0.55],
 [0,1.3e6, 500,3e4, 700,1e3, 900,1e2, 1200,3, 1250,0.55],
 [0,1.3e6, 100,1e4, 300,1e2, 400,0.55],
 [0,1.3e6, 600,1e5, 900,3e3, 1100,1e2, 1500,2, 1600,0.55],
 [0,1.3e6, 350,7e3, 800,7e3, 1000,5e2, 1200,5, 1300,0.55],
 [0,1.3e6, 200,5e3, 500,2e2, 800,3, 900,0.55],
 [0,1.3e6, 450,3e5, 700,1e4, 1000,6e2, 1400,30, 1700,1, 1800,0.55],
 [0,1.3e6, 150,1e6, 300,3e4, 550,3e2, 600,0.55],
 [0,1.3e6, 700,1e4, 1000,3e3, 1600,10, 2200,1, 2300,0.55],
 [0,1.3e6, 800,2e3, 1150,50, 1500,8, 1700,0.55],
 [0,1.3e6, 150,3e5, 350,1e4, 600,1e3, 600,0.55],
 [0,1.3e6, 250,1e6, 450,3e4, 650,3e3, 850,30, 850,0.55],
 [0,1.3e6, 100,1e5, 250,2e3, 450,20, 500,0.55],
 [0,1.3e6, 300,3e5, 550,7e3, 1000,4e2, 1100,0.55],
 [0,1.3e6, 400,3e5, 400,1e5, 800,1e3, 1000,5, 1100,0.55],
 [0,1.3e6, 50,1e4, 200,1e3, 200,0.55],
 [0,1.3e6, 60,1e6, 60,1e3, 150,1e3, 150,0.55],
 [0,1.3e6, 120,3e5, 250,3e5, 250,1e3, 350,10, 380,0.55],
 [0,1.3e6, 200,1e6, 200,3e5, 420,3e5, 420,1e4, 700,1e4, 700,10, 720,0.55],
 [0,1.3e6, 350,3e5, 650,2e4, 900,3e2, 950,0.55],
 [0,1.3e6, 80,3e5, 300,5e3, 450,5e3, 500,50, 650,0.55],
 [0,1.3e6, 250,3e5, 600,3e5, 600,7e3, 1100,7e3, 1100,1e3, 1300,1e3, 1300,0.55],
 [0,1.3e6, 500,1e5, 800,1e4, 1150,1e3, 1200,10, 1450,0.55],
 [0,1.3e6, 180,1e4, 380,3e2, 550,3, 560,0.55]
];
const SQUADS_C = [
 [0,1.3e6, 200,1.3e6, 200,3e5, 550,3e5, 550,5e3, 1000,5e3, 1100,7e2, 1900,7e2, 1900,3e2, 2550,3e2, 2550,1e2, 3680,1e2, 3680,0.9, 4700,0.9, 4700,0.7, 5400,0.7, 5400,0.55],
 [0,1.3e6, 300,3e5, 600,3e4, 800,3e3, 1470,30, 3680,30, 3700,0.55],
 [0,1.3e6, 50,1e6, 50,0.55, 10100,0.55],
 [0,1.3e6, 150,1e5, 400,1e3, 700,1e2, 1500,1e2, 1500,0.55],
 [0,1.3e6, 400,1e4, 900,7e2, 1300,1e2, 2000,1e2, 2000,0.6, 2600,0.6, 2600,0.55],
 [0,1.3e6, 250,1e4, 500,1e2, 600,1, 700,0.55],
 [0,1.3e6, 100,1e5, 300,2e3, 500,10, 550,0.55],
 [0,1.3e6, 500,1e5, 800,2e3, 1100,50, 1300,1, 1400,0.55],
 [0,1.3e6, 350,3e4, 700,5e2, 1000,20, 1200,0.55],
 [0,1.3e6, 200,5e3, 400,50, 600,0.55],
 [0,1.3e6, 600,1e4, 1200,2e2, 1700,5, 2100,0.55],
 [0,1.3e6, 800,3e3, 1600,80, 2200,2, 2400,0.55],
 [0,1.3e6, 450,5e4, 900,1e3, 1100,1e2, 1300,10, 1800,0.55],
 [0,1.3e6, 150,1e6, 300,1e4, 450,1e3, 800,0.55],
 [0,1.3e6, 150,3e5, 350,1e4, 600,1e3, 700,0.55],
 [0,1.3e6, 250,1e6, 500,3e4, 800,1e3, 1000,1e2, 1000,0.55],
 [0,1.3e6, 100,1e5, 250,2e3, 450,20, 500,0.55],
 [0,1.3e6, 300,3e5, 600,5e3, 1200,3e2, 1300,3, 1400,0.55],
 [0,1.3e6, 700,1e4, 1500,2e2, 2000,3, 2100,0.55],
 [0,1.3e6, 60,1e6, 60,1e3, 150,1e3, 150,0.55],
 [0,1.3e6, 120,3e5, 250,3e5, 250,1e3, 350,10, 380,0.55],
 [0,1.3e6, 200,1e6, 420,3e5, 700,1e4, 900,10, 950,0.55],
 [0,1.3e6, 350,3e5, 650,2e4, 900,3e2, 1050,0.55],
 [0,1.3e6, 80,3e5, 300,5e3, 450,5e3, 500,50, 650,0.55],
 [0,1.3e6, 500,1e5, 800,1e4, 1150,1e3, 1400,10, 1600,0.55],
 [0,1.3e6, 900,1e4, 1800,1e2, 2300,2, 2500,0.55]
];
const SQUADS_D = [
 [0,1.3e6, 300,1.3e6, 300,6e5, 700,6e5, 700,3e4, 1300,3e4, 1300,1e4, 1600,1e4, 1600,6e3, 2400,6e3, 2400,1e3, 3400,1e3, 3400,1e2, 4700,1e2, 4700,80, 9300,80, 9300,1.5, 10000,1.2],
 [0,1.3e6, 500,1e5, 1800,3e4, 2000,5e3, 2700,8e2, 3000,3e2, 3200,20, 4000,10, 4600,3, 5000,2.5, 8400,2.5, 8400,1.2, 10000,1.2],
 [0,1.3e6, 50,1e6, 50,0.55, 10100,0.55],
 [0,1.3e6, 200,1e5, 600,5e3, 1000,1e3, 1500,1e2, 2000,10, 2500,1, 3000,0.55],
 [0,1.3e6, 400,3e5, 800,1e4, 1200,5e2, 1800,30, 2500,5, 3500,1.2, 6000,1.2, 6000,0.55],
 [0,1.3e6, 100,1e4, 500,1e3, 800,50, 1200,3, 1500,0.55],
 [0,1.3e6, 600,2e4, 1400,2e3, 2200,2e2, 3000,8, 3600,1, 4200,0.55],
 [0,1.3e6, 300,8e4, 700,6e3, 1000,2e2, 1400,10, 1800,0.55],
 [0,1.3e6, 150,5e4, 400,5e2, 600,5, 700,0.55],
 [0,1.3e6, 800,3e5, 1200,2e4, 1800,6e3, 2500,2e2, 3500,30, 4500,2, 5500,1, 5500,0.55],
 [0,1.3e6, 250,5e3, 600,3e2, 900,10, 1000,0.55],
 [0,1.3e6, 1000,1e5, 1500,6e3, 2000,1e3, 2800,2e2, 3300,50, 4000,2, 4000,0.55],
 [0,1.3e6, 500,1e4, 900,1e3, 1700,1e2, 2200,20, 2700,3, 3500,0.55],
 [0,1.3e6, 700,2e5, 1100,1.5e4, 1600,1e3, 2000,80, 2600,8, 3200,1.1, 7000,1.1, 7000,0.55],
 [0,1.3e6, 350,2e4, 800,1e2, 1100,3, 1300,0.55],
 [0,1.3e6, 200,2e3, 500,20, 700,0.55],
 [0,1.3e6, 900,5e4, 1400,3e3, 2500,1e3, 3000,1e2, 3300,10, 3800,1.2, 8800,1.2, 8800,0.55],
 [0,1.3e6, 150,1e6, 500,3e4, 900,1e3, 1300,1e2, 1800,10, 2100,0.55],
 [0,1.3e6, 400,1e5, 1000,6e3, 1600,1e3, 2200,1e2, 2600,10, 3000,1, 3500,0.55],
 [0,1.3e6, 600,3e5, 1500,1e4, 2000,6e3, 2600,5e2, 3400,20, 4800,1, 5000,0.55],
 [0,1.3e6, 250,3e4, 700,2e3, 1200,30, 2000,1, 2200,0.55],
 [0,1.3e6, 800,5e4, 1800,5e3, 2700,1e3, 3000,3e2, 4000,1, 4200,0.55],
 [0,1.3e6, 60,1e6, 200,1e5, 400,1e4, 600,1e2, 900,1, 1000,0.55],
 [0,1.3e6, 300,1e6, 700,1e5, 1200,1e4, 1600,1e3, 2000,1e2, 2500,10, 3200,1, 3400,0.55],
 [0,1.3e6, 500,6e5, 1000,3e4, 1400,3e3, 1800,3e2, 2400,30, 2800,3, 3000,0.55],
 [0,1.3e6, 100,3e5, 400,5e4, 800,5e3, 1300,5e2, 1600,50, 2000,5, 2400,0.55],
 [0,1.3e6, 200,5e5, 800,1e5, 1300,2e4, 2100,6e3, 2500,1e3, 3500,1e2, 4000,5, 4500,1, 5000,0.55]
];
const runsByMethod = {
  LM: [LM_A, LM_B, LM_C, LM_D],
  PSO: [PSO_A, PSO_B, PSO_C, PSO_D],
  TRIBES: [TRIBES_A, TRIBES_B, TRIBES_C, TRIBES_D],
  SQUADS: [SQUADS_A, SQUADS_B, SQUADS_C, SQUADS_D]
};
const xDomains = { LM: [0, 1300], PSO: [0, 11000], TRIBES: [0, 11000], SQUADS: [0, 11000] };

// ---------------- layout ----------------
const colX = [112, 372, 632, 892];
const rowY = [38, 230, 422, 614];
const PW = 205, PH = 152;
const SERIF = "'Liberation Serif','DejaVu Serif',serif";

const svg = d3.select("#c");
svg.append("rect").attr("width", 1097).attr("height", 807).attr("fill", "#fff");

methods.forEach((m, c) => {
  svg.append("text").attr("x", colX[c] + PW / 2).attr("y", 27).attr("fill", "#000")
    .attr("text-anchor", "middle").attr("font-family", SERIF).attr("font-size", 22).text(m);
});
problems.forEach((p, r) => {
  svg.append("text").attr("x", 15).attr("y", rowY[r] + PH / 2 + 8).attr("fill", "#000")
    .attr("text-anchor", "middle").attr("font-family", SERIF).attr("font-size", 22).text(p);
});

const fmtY = v => yTickLabels[yTicks.indexOf(v)];

methods.forEach((m, c) => {
  problems.forEach((p, r) => {
    const g = svg.append("g").attr("transform", `translate(${colX[c]},${rowY[r]})`);
    const x = d3.scaleLinear().domain(xDomains[m]).range([0, PW]);
    const y = d3.scaleLog().domain([0.1, 1e7]).range([PH, 0]);
    const xt = m === "LM" ? lmXTicks : popXTicks;
    const id = `clip-${c}-${r}`;
    g.append("clipPath").attr("id", id).append("rect").attr("width", PW).attr("height", PH);

    // SQUADS improvements happen in discrete jumps -> staircase; others linear
    const line = d3.line().x(d => x(d[0])).y(d => y(d[1]))
      .curve(m === "SQUADS" ? d3.curveStepAfter : d3.curveLinear);
    const runs = runsByMethod[m][r].map(a => {
      const pts = [];
      for (let i = 0; i < a.length; i += 2) pts.push([a[i], a[i + 1]]);
      return pts;
    });
    g.append("g").attr("clip-path", `url(#${id})`).selectAll("path").data(runs).join("path")
      .attr("d", line).attr("fill", "none").attr("stroke", "#000").attr("stroke-width", 1.0);

    const style = sel => {
      sel.select(".domain").remove();
      sel.selectAll("text").attr("font-family", SERIF).attr("font-size", 8.5).attr("fill", "#000");
      sel.selectAll("line").attr("stroke", "#000").attr("stroke-width", 0.8);
    };
    g.append("g").call(d3.axisLeft(y).tickValues(yTicks).tickFormat(fmtY).tickSize(-4).tickPadding(7)).call(style);
    g.append("g").attr("transform", `translate(${PW},0)`).call(d3.axisRight(y).tickValues(yTicks).tickFormat("").tickSize(-4)).call(style);
    g.append("g").attr("transform", `translate(0,${PH})`).call(d3.axisBottom(x).tickValues(xt).tickFormat(d3.format("d")).tickSize(-4).tickPadding(5)).call(style);
    g.append("g").call(d3.axisTop(x).tickValues(xt).tickFormat("").tickSize(-4)).call(style);

    g.append("rect").attr("width", PW).attr("height", PH).attr("fill", "none")
      .attr("stroke", "#000").attr("stroke-width", 1.3);

    g.append("text").attr("x", PW / 2).attr("y", PH + 22).attr("text-anchor", "middle").attr("fill", "#000")
      .attr("font-family", SERIF).attr("font-size", 8.5).text(xLabel);
    g.append("text").attr("transform", `translate(-46,${PH / 2}) rotate(-90)`).attr("text-anchor", "middle").attr("fill", "#000")
      .attr("font-family", SERIF).attr("font-size", 8.5).text(yLabel);
  });
});
</script>
</body></html>
